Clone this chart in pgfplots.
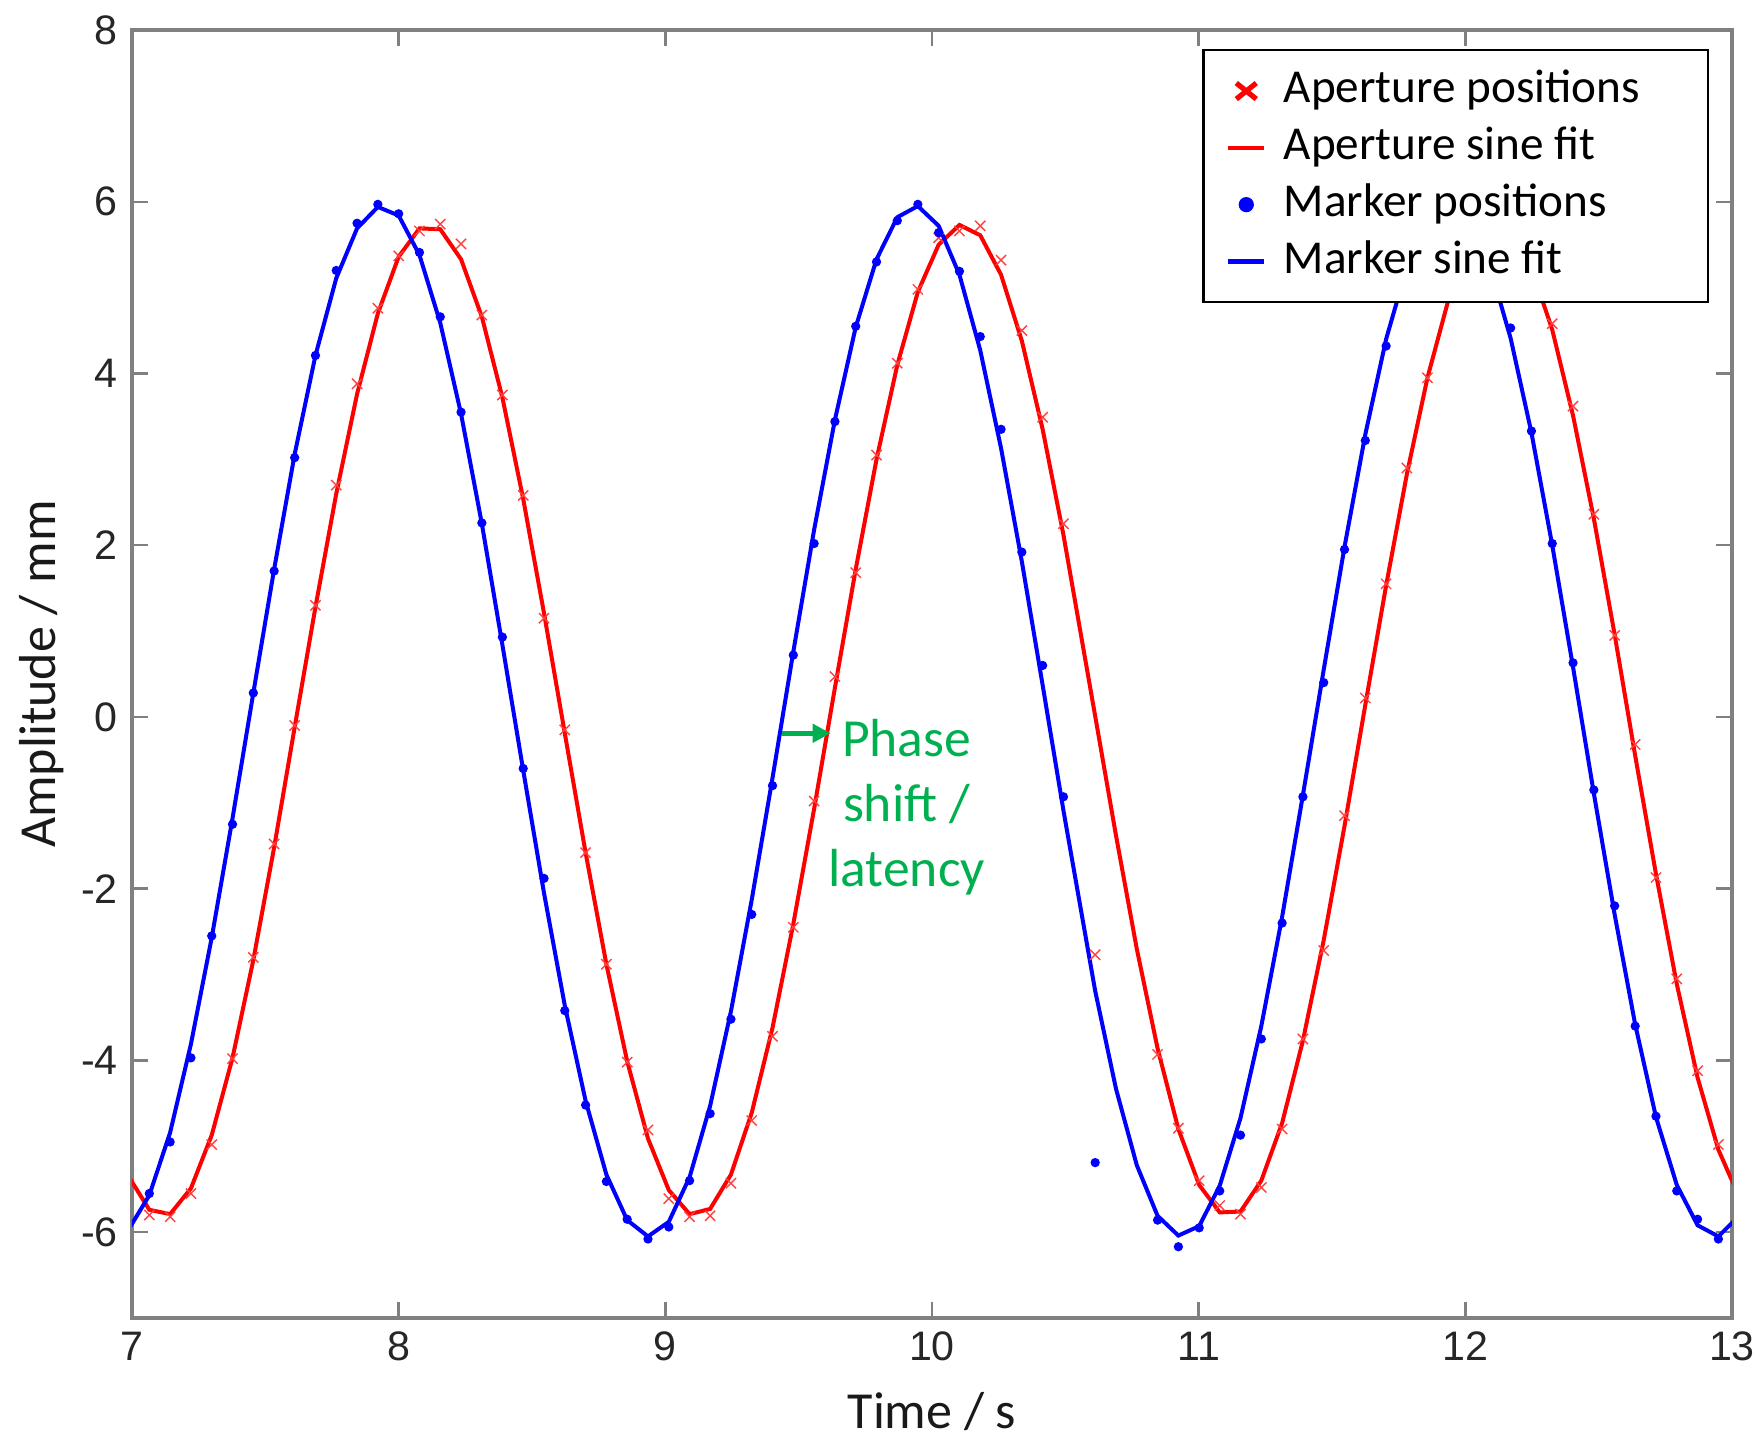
\documentclass[border=0pt]{standalone}
\usepackage{pgfplots}
\pgfplotsset{compat=1.18}
\usetikzlibrary{arrows.meta}
\usepackage{fontspec}
\setmainfont{Carlito}
\newfontfamily\arialfont{Liberation Sans}
\definecolor{axgray}{RGB}{128,128,128}
\definecolor{phasegreen}{RGB}{0,176,80}

\pgfplotstableread{
t y
7.065 -5.80
7.143 -5.82
7.221 -5.55
7.299 -4.98
7.377 -3.98
7.455 -2.80
7.533 -1.48
7.610 -0.10
7.688 1.30
7.766 2.70
7.844 3.88
7.922 4.76
8.000 5.37
8.078 5.66
8.156 5.74
8.234 5.51
8.312 4.68
8.389 3.75
8.467 2.58
8.545 1.15
8.623 -0.15
8.701 -1.58
8.779 -2.88
8.857 -4.02
8.935 -4.81
9.013 -5.61
9.091 -5.82
9.168 -5.81
9.246 -5.43
9.324 -4.70
9.402 -3.72
9.480 -2.45
9.558 -0.98
9.636 0.47
9.714 1.68
9.792 3.05
9.870 4.12
9.947 4.98
10.025 5.58
10.103 5.66
10.181 5.72
10.259 5.32
10.337 4.50
10.415 3.49
10.493 2.25
10.612 -2.77
10.846 -3.93
10.924 -4.79
11.002 -5.40
11.079 -5.69
11.157 -5.79
11.235 -5.48
11.313 -4.80
11.391 -3.75
11.469 -2.72
11.547 -1.15
11.625 0.22
11.703 1.55
11.781 2.90
11.858 3.95
11.936 4.88
12.014 5.45
12.092 5.70
12.170 5.68
12.248 5.30
12.326 4.58
12.404 3.62
12.482 2.36
12.560 0.95
12.637 -0.32
12.715 -1.87
12.793 -3.05
12.871 -4.12
12.949 -4.98
}\aperturepos

\pgfplotstableread{
t y
6.987 -5.35
7.065 -5.74
7.143 -5.79
7.221 -5.49
7.299 -4.87
7.377 -3.97
7.455 -2.83
7.533 -1.52
7.610 -0.12
7.688 1.28
7.766 2.60
7.844 3.76
7.922 4.70
8.000 5.36
8.078 5.69
8.156 5.68
8.234 5.33
8.312 4.66
8.389 3.72
8.467 2.54
8.545 1.21
8.623 -0.19
8.701 -1.58
8.779 -2.88
8.857 -4.01
8.935 -4.91
9.013 -5.51
9.091 -5.79
9.168 -5.73
9.246 -5.33
9.324 -4.61
9.402 -3.62
9.480 -2.41
9.558 -1.07
9.636 0.34
9.714 1.72
9.792 3.00
9.870 4.10
9.947 4.95
10.025 5.50
10.103 5.73
10.181 5.61
10.259 5.15
10.337 4.38
10.415 3.35
10.493 2.12
10.612 0.01
10.690 -1.38
10.768 -2.70
10.846 -3.86
10.924 -4.80
11.002 -5.45
11.079 -5.77
11.157 -5.76
11.235 -5.40
11.313 -4.73
11.391 -3.77
11.469 -2.60
11.547 -1.27
11.625 0.14
11.703 1.53
11.781 2.83
11.858 3.95
11.936 4.85
12.014 5.44
12.092 5.72
12.170 5.64
12.248 5.23
12.326 4.51
12.404 3.51
12.482 2.31
12.560 0.96
12.637 -0.45
12.715 -1.83
12.793 -3.11
12.871 -4.20
12.949 -5.04
13.027 -5.59
}\aperturefit

\pgfplotstableread{
t y
7.065 -5.55
7.143 -4.95
7.221 -3.97
7.299 -2.55
7.377 -1.25
7.455 0.28
7.533 1.70
7.610 3.02
7.688 4.21
7.766 5.20
7.844 5.75
7.922 5.97
8.000 5.86
8.078 5.41
8.156 4.66
8.234 3.55
8.312 2.26
8.389 0.93
8.467 -0.60
8.545 -1.88
8.623 -3.42
8.701 -4.52
8.779 -5.41
8.857 -5.85
8.935 -6.08
9.013 -5.94
9.091 -5.40
9.168 -4.62
9.246 -3.52
9.324 -2.30
9.402 -0.80
9.480 0.72
9.558 2.02
9.636 3.44
9.714 4.55
9.792 5.30
9.870 5.78
9.947 5.97
10.025 5.64
10.103 5.19
10.181 4.43
10.259 3.35
10.337 1.92
10.415 0.60
10.493 -0.93
10.612 -5.19
10.846 -5.86
10.924 -6.17
11.002 -5.95
11.079 -5.52
11.157 -4.87
11.235 -3.75
11.313 -2.40
11.391 -0.93
11.469 0.40
11.547 1.95
11.625 3.22
11.703 4.32
11.781 5.20
11.858 5.75
11.936 5.95
12.014 5.80
12.092 5.28
12.170 4.53
12.248 3.33
12.326 2.02
12.404 0.63
12.482 -0.85
12.560 -2.20
12.637 -3.60
12.715 -4.65
12.793 -5.52
12.871 -5.85
12.949 -6.08
}\markerpos

\pgfplotstableread{
t y
6.987 -5.97
7.065 -5.57
7.143 -4.84
7.221 -3.81
7.299 -2.57
7.377 -1.18
7.455 0.28
7.533 1.72
7.610 3.06
7.688 4.21
7.766 5.11
7.844 5.69
7.922 5.94
8.000 5.84
8.078 5.38
8.156 4.59
8.234 3.53
8.312 2.25
8.389 0.84
8.467 -0.62
8.545 -2.05
8.623 -3.36
8.701 -4.47
8.779 -5.33
8.857 -5.86
8.935 -6.05
9.013 -5.88
9.091 -5.36
9.168 -4.53
9.246 -3.43
9.324 -2.13
9.402 -0.71
9.480 0.76
9.558 2.18
9.636 3.46
9.714 4.54
9.792 5.33
9.870 5.82
9.947 5.95
10.025 5.72
10.103 5.15
10.181 4.27
10.259 3.13
10.337 1.81
10.415 0.37
10.493 -1.09
10.612 -3.19
10.690 -4.33
10.768 -5.22
10.846 -5.81
10.924 -6.04
11.002 -5.93
11.079 -5.46
11.157 -4.67
11.235 -3.60
11.313 -2.33
11.391 -0.91
11.469 0.55
11.547 1.98
11.625 3.29
11.703 4.40
11.781 5.24
11.858 5.77
11.936 5.95
12.014 5.77
12.092 5.25
12.170 4.41
12.248 3.31
12.326 2.00
12.404 0.58
12.482 -0.89
12.560 -2.30
12.637 -3.58
12.715 -4.66
12.793 -5.45
12.871 -5.92
12.949 -6.05
13.027 -5.81
}\markerfit

\begin{document}
\begin{tikzpicture}
\path[use as bounding box] (-33pt,-30.5pt) rectangle (407pt,329.5pt);
\begin{axis}[
  at={(0pt,0pt)}, anchor=south west,
  width=400pt, height=322pt, scale only axis,
  xmin=7, xmax=13, ymin=-7, ymax=8,
  xtick={7,8,9,10,11,12,13}, ytick={-6,-4,-2,0,2,4,6,8},
  tick align=inside,
  major tick length=4pt,
  axis line style={axgray, line width=0.8pt},
  every tick/.style={axgray, line width=0.6pt},
  ticklabel style={font=\arialfont\fontsize{10.3}{12}\selectfont, text=black!85},
  /pgf/number format/assume math mode=true,
  xlabel={Time / s}, ylabel={Amplitude / mm},
  label style={font=\fontsize{13}{15}\selectfont, text=black!90},
  xlabel style={at={(axis description cs:0.5,-0.073)}, anchor=center},
  ylabel style={at={(axis description cs:-0.05625,0.5)}, anchor=center},
  legend style={at={(axis description cs:1,1)}, anchor=north east,
    xshift=-5.75pt, yshift=-4.75pt, draw=black, line width=0.6pt,
    fill=white,
    font=\fontsize{11.8}{14}\selectfont,
    inner xsep=5.7pt, inner ysep=3.1pt, row sep=0pt,
    nodes={text height=8.3pt, text depth=2.5pt, inner ysep=1.7pt, inner xsep=4.3pt},
    cells={anchor=west}},
]
\addplot[only marks, mark=x, mark size=1.8pt, mark options={red!75, line width=0.35pt},
  legend image code/.code={\draw[red, line width=1.3pt] (2pt,-2pt)--(7pt,2pt) (2pt,2pt)--(7pt,-2pt);}]
  table[x=t, y=y] {\aperturepos};
\addlegendentry{Aperture positions\hspace*{7pt}}
\addplot[red, line width=1pt, no marks,
  legend image code/.code={\draw[red, line width=1.1pt] (0pt,0pt)--(9pt,0pt);}]
  table[x=t, y=y] {\aperturefit};
\addlegendentry{Aperture sine fit}
\addplot[only marks, mark=*, mark size=0.95pt, mark options={blue, draw=blue, fill=blue},
  legend image code/.code={\fill[blue] (4.5pt,0pt) circle (1.6pt);}]
  table[x=t, y=y] {\markerpos};
\addlegendentry{Marker positions}
\addplot[blue, line width=1pt, no marks,
  legend image code/.code={\draw[blue, line width=1.1pt] (0pt,0pt)--(9pt,0pt);}]
  table[x=t, y=y] {\markerfit};
\addlegendentry{Marker sine fit}
\draw[phasegreen, line width=1.2pt, -{Triangle[length=4.5pt,width=4.5pt]}]
  (axis cs:9.438,-0.19) -- (axis cs:9.62,-0.19);
\node[text=phasegreen, align=center, font=\fontsize{13.4}{16.25}\selectfont]
  at (axis cs:9.905,-1.05) {Phase\\shift /\\latency};
\end{axis}
\end{tikzpicture}
\end{document}
